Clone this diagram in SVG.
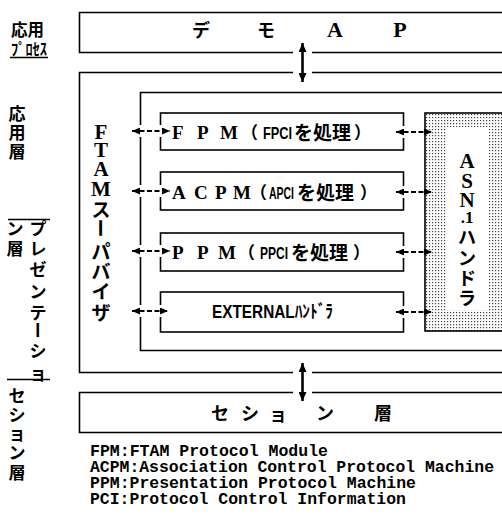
<svg xmlns="http://www.w3.org/2000/svg" width="502" height="522" viewBox="0 0 502 522">
<defs>
<style>
.ln{fill:none;stroke:#000;stroke-width:1.6}
.jp{font-family:"Noto Sans CJK JP",sans-serif;font-weight:bold;fill:#000}
.sf{font-family:"Liberation Serif","Noto Sans CJK JP",serif;font-weight:bold;fill:#000}
.cn{font-family:"Liberation Sans","Noto Sans CJK JP",sans-serif;font-weight:bold;fill:#000}
.mono{font-family:"Liberation Mono",monospace;font-weight:bold;font-size:16.4px;fill:#000}
.c{text-anchor:middle;dominant-baseline:central}
.dash{stroke:#000;stroke-width:1.8;stroke-dasharray:5 2.5;marker-start:url(#ah);marker-end:url(#ah)}
.solid{stroke:#000;stroke-width:2.6;marker-start:url(#ahv);marker-end:url(#ahv)}
.bg{fill:#fff}
</style>
<marker id="ah" viewBox="0 0 8 7" refX="8" refY="3.5" markerWidth="8" markerHeight="7" markerUnits="userSpaceOnUse" orient="auto-start-reverse"><path d="M0,0 L8,3.5 L0,7 z" fill="#000"/></marker>
<marker id="ahv" viewBox="0 0 9 8" refX="9" refY="4" markerWidth="9" markerHeight="8" markerUnits="userSpaceOnUse" orient="auto-start-reverse"><path d="M0,0 L9,4 L0,8 z" fill="#000"/></marker>
<pattern id="dots" width="3" height="3" patternUnits="userSpaceOnUse"><rect width="3" height="3" fill="#fff"/><rect width="1.2" height="1.2" fill="#444"/></pattern>
</defs>
<rect width="502" height="522" fill="#fff"/>

<g id="layer-labels">
<text class="jp" x="11" y="36" font-size="16.5">応用</text>
<text class="jp" x="11" y="55" font-size="15.5" textLength="36" lengthAdjust="spacingAndGlyphs">ﾌﾟﾛｾｽ</text>
<path class="ln" d="M10 57.5 H48"/>
<text class="jp c" font-size="17" x="17" y="112">応</text>
<text class="jp c" font-size="17" x="17" y="131">用</text>
<text class="jp c" font-size="17" x="17" y="150">層</text>
<path class="ln" d="M8 219.5 H50"/>
<text class="jp c" font-size="17" x="15" y="227">ン</text>
<text class="jp c" font-size="17" x="15" y="247">層</text>
<text class="jp c" font-size="17" x="38" y="227">プ</text>
<text class="jp c" font-size="17" x="38" y="247">レ</text>
<text class="jp c" font-size="17" x="38" y="268">ゼ</text>
<text class="jp c" font-size="17" x="38" y="290">ン</text>
<text class="jp c" font-size="17" x="38" y="311">テ</text>
<text class="jp c" font-size="17" x="38" y="330" transform="rotate(90 38 330)">ー</text>
<text class="jp c" font-size="17" x="38" y="349">シ</text>
<text class="jp c" font-size="17" x="38" y="372">ョ</text>
<path class="ln" d="M7 379.5 H50"/>
<text class="jp c" font-size="17" x="17" y="394">セ</text>
<text class="jp c" font-size="17" x="17" y="413">シ</text>
<text class="jp c" font-size="17" x="17" y="432">ョ</text>
<text class="jp c" font-size="17" x="17" y="451">ン</text>
<text class="jp c" font-size="17" x="17" y="471">層</text>
</g>

<g id="demo-ap">
<path class="ln" d="M502 12.5 H79.5 V52.5 H293 M312 52.5 H502"/>
<text class="jp c" font-size="18" x="201" y="29">デ</text>
<text class="jp c" font-size="18" x="266" y="29">モ</text>
<text class="sf c" font-size="22" x="335" y="29">A</text>
<text class="sf c" font-size="22" x="400" y="29">P</text>
</g>

<g id="ftam-supervisor">
<path class="ln" d="M502 72.5 H312 M293 72.5 H79.5 V372.5 H293 M312 372.5 H502"/>
<text class="sf c" font-size="21" x="101" y="132">F</text>
<text class="sf c" font-size="21" x="101" y="150">T</text>
<text class="sf c" font-size="21" x="101" y="169">A</text>
<text class="sf c" font-size="21" x="101" y="189">M</text>
<text class="jp c" font-size="19" x="101" y="208">ス</text>
<text class="jp c" font-size="19" x="101" y="228" transform="rotate(90 101 228)">ー</text>
<text class="jp c" font-size="19" x="101" y="250">パ</text>
<text class="jp c" font-size="19" x="101" y="270">バ</text>
<text class="jp c" font-size="19" x="101" y="290">イ</text>
<text class="jp c" font-size="19" x="101" y="311">ザ</text>
</g>

<g id="ftam-entity">
<path class="ln" d="M502 92.5 H140.5 V350.5 H502"/>
</g>

<g id="fpm">
<rect class="ln" x="160.5" y="113" width="243" height="37"/>
<text class="sf" font-size="19" y="139"><tspan x="172">F</tspan><tspan x="197">P</tspan><tspan x="220">M</tspan></text>
<text class="jp" font-size="17" x="241" y="139">（</text>
<text class="cn" font-size="16.5" x="263" y="139" textLength="29" lengthAdjust="spacingAndGlyphs">FPCI</text>
<text class="jp" font-size="19" x="294" y="140">を処理</text>
<text class="jp" font-size="17" x="354" y="139">）</text>
</g>

<g id="acpm">
<rect class="ln" x="160.5" y="172" width="243" height="38"/>
<text class="sf" font-size="19" y="199"><tspan x="172">A</tspan><tspan x="194">C</tspan><tspan x="215">P</tspan><tspan x="233">M</tspan></text>
<text class="jp" font-size="17" x="250" y="199">（</text>
<text class="cn" font-size="16.5" x="269" y="199" textLength="25" lengthAdjust="spacingAndGlyphs">APCI</text>
<text class="jp" font-size="19" x="297" y="200">を処理</text>
<text class="jp" font-size="17" x="360" y="199">）</text>
</g>

<g id="ppm">
<rect class="ln" x="160.5" y="233" width="243" height="38"/>
<text class="sf" font-size="19" y="259"><tspan x="172">P</tspan><tspan x="197">P</tspan><tspan x="218">M</tspan></text>
<text class="jp" font-size="17" x="238" y="259">（</text>
<text class="cn" font-size="16.5" x="260" y="259" textLength="28" lengthAdjust="spacingAndGlyphs">PPCI</text>
<text class="jp" font-size="19" x="291" y="260">を処理</text>
<text class="jp" font-size="17" x="353" y="259">）</text>
</g>

<g id="external">
<rect class="ln" x="160.5" y="292" width="243" height="40"/>
<text class="cn" font-size="18" x="212" y="318" textLength="121" lengthAdjust="spacingAndGlyphs">EXTERNALﾊﾝﾄﾞﾗ</text>
</g>

<g id="asn1">
<rect x="425" y="113" width="90" height="218" fill="url(#dots)" stroke="#000" stroke-width="1.6"/>
<rect x="447" y="127" width="41" height="183" fill="#fff"/>
<text class="sf c" font-size="21" x="467" y="161">A</text>
<text class="sf c" font-size="21" x="467" y="181">S</text>
<text class="sf c" font-size="21" x="467" y="200">N</text>
<text class="sf c" font-size="17" x="467" y="217">.1</text>
<text class="jp c" font-size="18" x="467" y="236">ハ</text>
<text class="jp c" font-size="18" x="467" y="257">ン</text>
<text class="jp c" font-size="18" x="467" y="277">ド</text>
<text class="jp c" font-size="18" x="467" y="297">ラ</text>
</g>

<g id="session">
<path class="ln" d="M502 392.5 H312 M293 392.5 H79.5 V432.5 H502"/>
<text class="jp c" font-size="18" x="220" y="412">セ</text>
<text class="jp c" font-size="18" x="250" y="412">シ</text>
<text class="jp c" font-size="18" x="278" y="413">ョ</text>
<text class="jp c" font-size="18" x="325" y="412">ン</text>
<text class="jp c" font-size="18" x="383" y="412">層</text>
</g>

<g id="connectors">
<line class="solid" x1="302.5" y1="43" x2="302.5" y2="82"/>
<line class="solid" x1="302.5" y1="363" x2="302.5" y2="401"/>
<rect class="bg" x="134" y="125" width="34" height="12"/>
<line class="dash" x1="132" y1="131" x2="170" y2="131"/>
<rect class="bg" x="134" y="185" width="34" height="12"/>
<line class="dash" x1="132" y1="191" x2="170" y2="191"/>
<rect class="bg" x="134" y="245" width="34" height="12"/>
<line class="dash" x1="132" y1="251" x2="170" y2="251"/>
<rect class="bg" x="134" y="305" width="32" height="12"/>
<line class="dash" x1="132" y1="311" x2="168" y2="311"/>
<rect class="bg" x="398" y="126" width="24" height="12"/>
<line class="dash" x1="396" y1="132" x2="432" y2="132"/>
<rect class="bg" x="398" y="186" width="24" height="12"/>
<line class="dash" x1="396" y1="192" x2="432" y2="192"/>
<rect class="bg" x="398" y="246" width="24" height="12"/>
<line class="dash" x1="396" y1="252" x2="432" y2="252"/>
<rect class="bg" x="398" y="306" width="24" height="12"/>
<line class="dash" x1="396" y1="312" x2="432" y2="312"/>
</g>

<g id="legend">
<text class="mono" x="90" y="456" textLength="238" lengthAdjust="spacingAndGlyphs">FPM:FTAM Protocol Module</text>
<text class="mono" x="90" y="472" textLength="404" lengthAdjust="spacingAndGlyphs">ACPM:Association Control Protocol Machine</text>
<text class="mono" x="90" y="488" textLength="326" lengthAdjust="spacingAndGlyphs">PPM:Presentation Protocol Machine</text>
<text class="mono" x="90" y="504" textLength="316" lengthAdjust="spacingAndGlyphs">PCI:Protocol Control Information</text>
</g>
</svg>
